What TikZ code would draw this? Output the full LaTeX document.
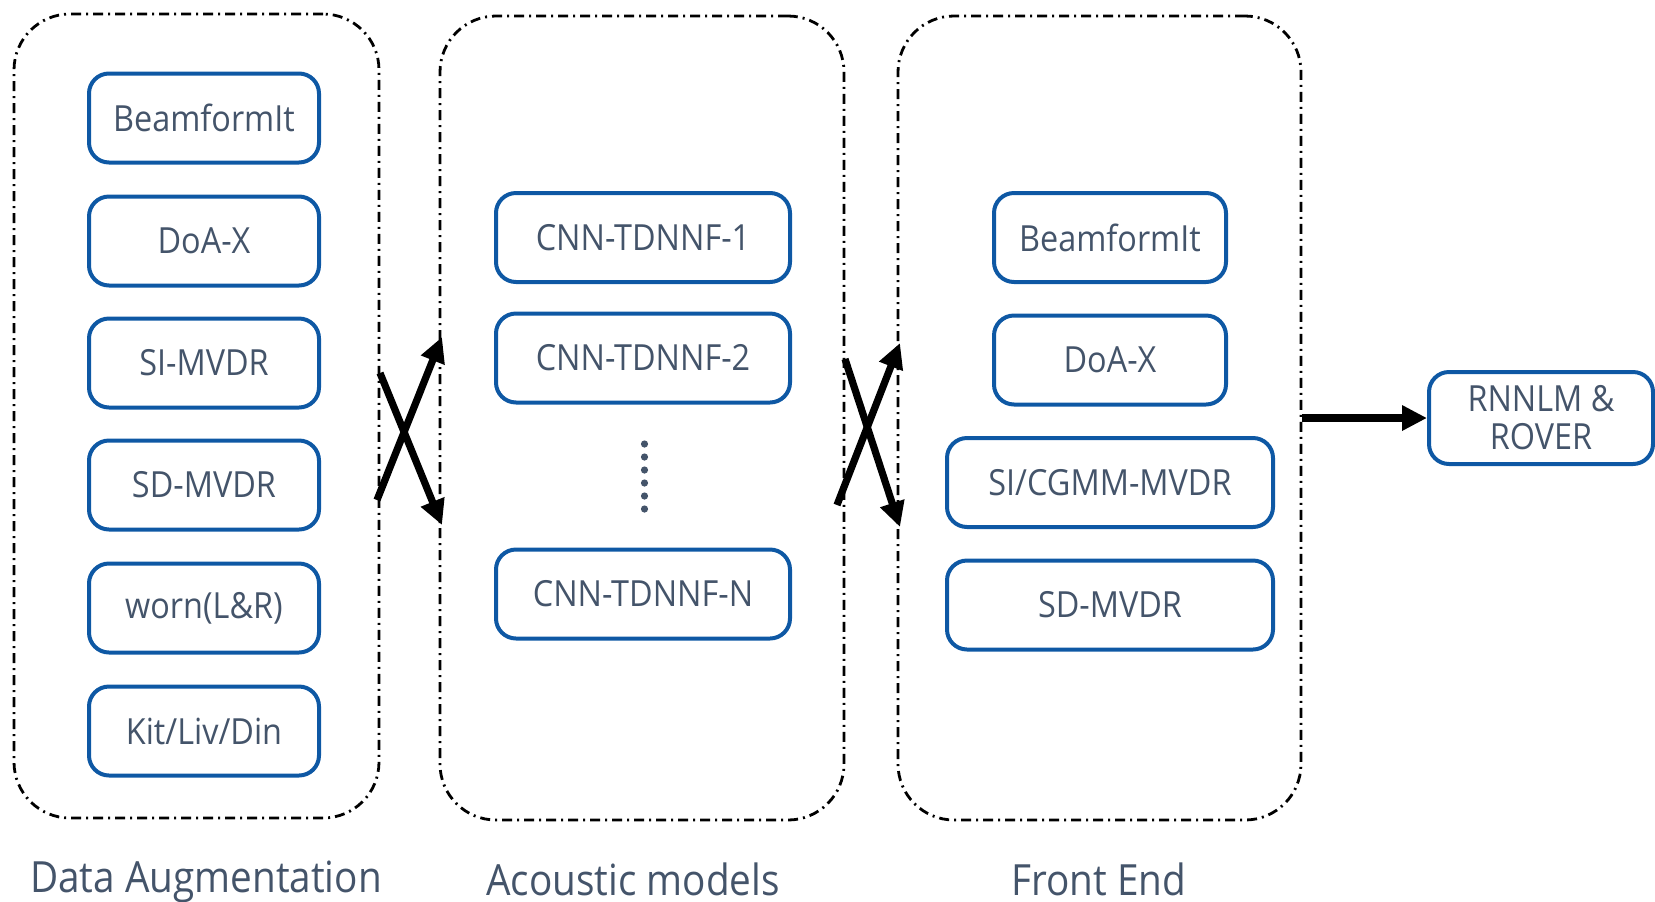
\documentclass[tikz,border=0pt]{standalone}
\usepackage{fontspec}
\setmainfont[FakeStretch=0.9]{Open Sans}
\usetikzlibrary{arrows.meta}
\definecolor{boxblue}{RGB}{14,88,164}
\definecolor{txtgray}{RGB}{68,84,106}

\begin{document}
\begin{tikzpicture}[x=0.5pt,y=-0.5pt,
    mbox/.style={draw=boxblue, line width=2pt, rounded corners=10pt, text=txtgray,
        font=\fontsize{18}{19}\selectfont, minimum height=44.5pt, inner sep=0pt, align=center},
    group/.style={draw=black, line width=1.4pt, dash pattern=on 5pt off 2.5pt on 1pt off 2.5pt,
        rounded corners=28pt, inner sep=0pt, minimum height=402pt},
    grouplabel/.style={text=txtgray, font=\fontsize{21.5}{23}\selectfont, anchor=base},
    bigarrow/.style={line width=3.6pt, -{Triangle[length=12.5pt,width=12pt]}}]
        \useasboundingbox (0,0) rectangle (1655,901);
        %#####################################################
        % dashed groups
        \node[group, minimum width=182.5pt] (aug) at (196.5,416) {};
        \node[group, minimum width=202pt] (am) at (642,418) {};
        \node[group, minimum width=201.5pt] (fe) at (1099.5,418) {};
        %#####################################################
        % data augmentation
        \foreach \txt/\y [count=\i] in {BeamformIt/118, DoA-X/241, SI-MVDR/363,
                SD-MVDR/485, worn(L\&R)/608, {Kit/Liv/Din}/731}{
        \node[mbox, minimum width=115pt] (da\i) at (204,\y) {\txt};
        }
        %#####################################################
        % acoustic models
        \node[mbox, minimum width=147pt] (am1) at (643,237.5) {CNN-TDNNF-1};
        \node[mbox, minimum width=147pt] (am2) at (643,358) {CNN-TDNNF-2};
        \node[mbox, minimum width=147pt] (amN) at (643,594) {CNN-TDNNF-N};
        \foreach \k in {0,...,5}{
        \fill[txtgray] (644.5,444+13*\k) circle (1.8pt);
        }
        %#####################################################
        % front end
        \node[mbox, minimum width=116pt] (fe1) at (1110,237.5) {BeamformIt};
        \node[mbox, minimum width=116pt] (fe2) at (1110,360) {DoA-X};
        \node[mbox, minimum width=163pt] (fe3) at (1110,482.5) {SI/CGMM-MVDR};
        \node[mbox, minimum width=163pt] (fe4) at (1110,605) {SD-MVDR};
        %#####################################################
        \node[mbox, minimum width=112pt, minimum height=46pt] (rover) at (1541,418) {RNNLM \&\\ROVER};
        % crossing arrows between the groups
        \coordinate (x1) at (377,500);  \coordinate (x2) at (442,337);
        \coordinate (x3) at (380,373);  \coordinate (x4) at (442,525);
        \coordinate (y1) at (837,505);  \coordinate (y2) at (900,343);
        \coordinate (y3) at (845,359);  \coordinate (y4) at (900,527);
        \draw[bigarrow] (x1) -- (x2);
        \draw[bigarrow] (x3) -- (x4);
        \draw[bigarrow] (y1) -- (y2);
        \draw[bigarrow] (y3) -- (y4);
        \draw[bigarrow, line width=4pt] (fe.east) -- (rover.west);
        % group names
        \node[grouplabel] (augname) at (206,892) {Data Augmentation};
        \node[grouplabel] (amname) at (633,895) {Acoustic models};
        \node[grouplabel] (fename) at (1099,895) {Front End};
\end{tikzpicture}
\end{document}
